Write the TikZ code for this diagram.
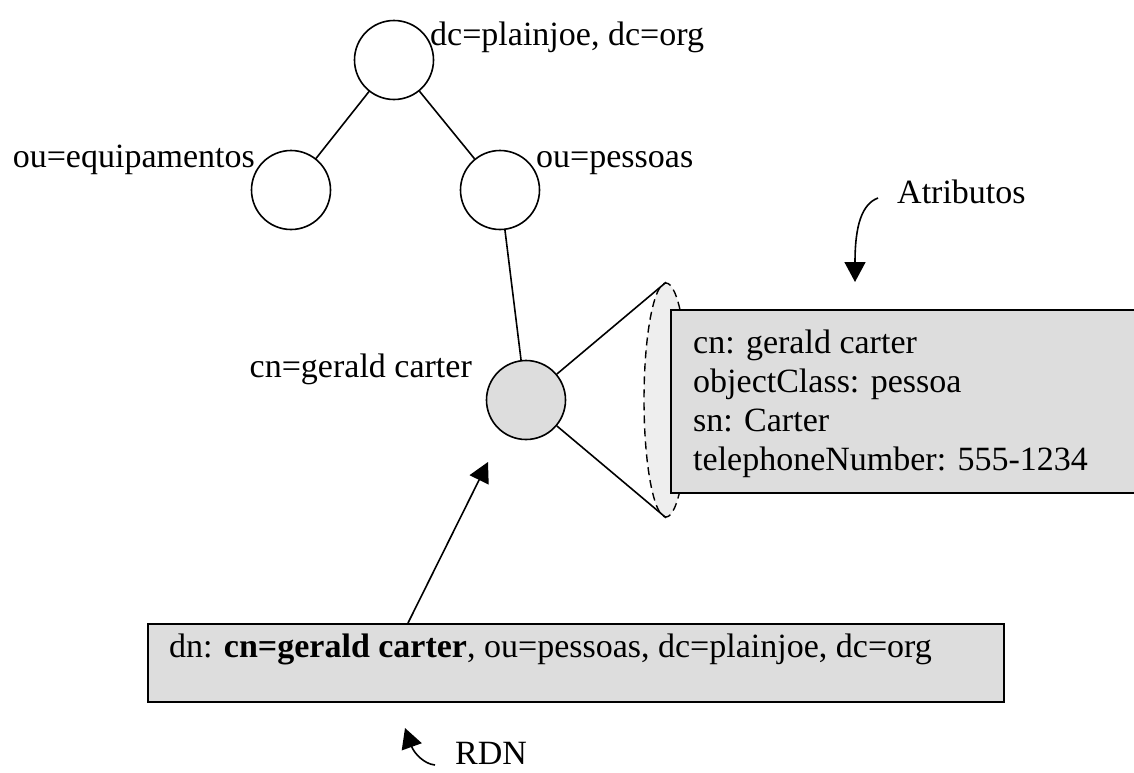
\documentclass[tikz,border=0pt]{standalone}
\usepackage{fontspec}
\setmainfont{Liberation Serif}
\usetikzlibrary{arrows.meta,shapes.geometric}
\definecolor{entryfill}{HTML}{DDDDDD}
\definecolor{conefill}{HTML}{EEEEEE}
\tikzset{
  lbl/.style={font=\fontsize{34}{39}\selectfont, inner sep=0pt},
  treenode/.style={circle, draw, line width=1.6pt, minimum size=79pt, inner sep=0pt},
  edge/.style={line width=1.6pt},
  infobox/.style={rectangle, draw, line width=1.6pt, fill=entryfill, inner sep=0pt},
  pointer/.style={line width=1.6pt, -{Triangle[length=20pt,width=21pt]}},
}
\begin{document}
\begin{tikzpicture}[x=1pt,y=-1pt]
\useasboundingbox (0,0) rectangle (1134,772);

% directory tree
\node[treenode] (root) at (394,60) {};
\node[treenode] (equip) at (291,190) {};
\node[treenode] (pess) at (500,190) {};
\node[treenode, fill=entryfill] (gc) at (526,400) {};

\draw[edge] (root) -- (equip);
\draw[edge] (root) -- (pess);
\draw[edge] (pess) -- (gc);

\node[lbl, anchor=base west] (lroot) at (430,45) {dc=plainjoe, dc=org};
\node[lbl, anchor=base east] (lequip) at (255,167) {ou=equipamentos};
\node[lbl, anchor=base west] (lpess) at (536,167) {ou=pessoas};
\node[lbl, anchor=base east] (lgc) at (472,377) {cn=gerald carter};

% attribute cone
\node[ellipse, draw, dashed, dash pattern=on 8pt off 5pt, line width=1.4pt,
      fill=conefill, minimum width=44pt, minimum height=234pt, inner sep=0pt] (cone) at (666,400) {};
\draw[edge] (gc) -- (cone.north);
\draw[edge] (gc) -- (cone.south);

% attribute box (runs on past the right edge of the page)
\node[infobox, anchor=north west, minimum width=475pt, minimum height=183pt] (attrs) at (670,309) {};
\node[lbl, anchor=base west] (a1) at (693,353) {cn: gerald carter};
\node[lbl, anchor=base west] (a2) at (693,392) {objectClass: pessoa};
\node[lbl, anchor=base west] (a3) at (693,431) {sn: Carter};
\node[lbl, anchor=base west] (a4) at (693,470) {telephoneNumber: 555-1234};

% "Atributos" callout
\node[lbl, anchor=base west] (attrlbl) at (897,203) {Atributos};
\coordinate (attrstart) at (878,198);
\coordinate (attrtip) at (855,282);
\draw[pointer] (attrstart) .. controls (862,204) and (855,225) .. (attrtip);

% distinguished name box
\node[infobox, anchor=north west, minimum width=856pt, minimum height=78pt] (dnbox) at (147,623) {};
\node[lbl, anchor=base west] (dntext) at (169,657) {dn: \textbf{cn=gerald carter}, ou=pessoas, dc=plainjoe, dc=org};
\coordinate (dnfoot) at (408,623);
\coordinate (dntip) at (488,462);
\draw[pointer] (dnfoot) -- (dntip);

% "RDN" callout
\node[lbl, anchor=base west] (rdnlbl) at (455,764) {RDN};
\coordinate (rdnstart) at (435,765);
\coordinate (rdntip) at (405,728);
\draw[pointer] (rdnstart) .. controls (424,764) and (414,753) .. (rdntip);
\end{tikzpicture}
\end{document}
